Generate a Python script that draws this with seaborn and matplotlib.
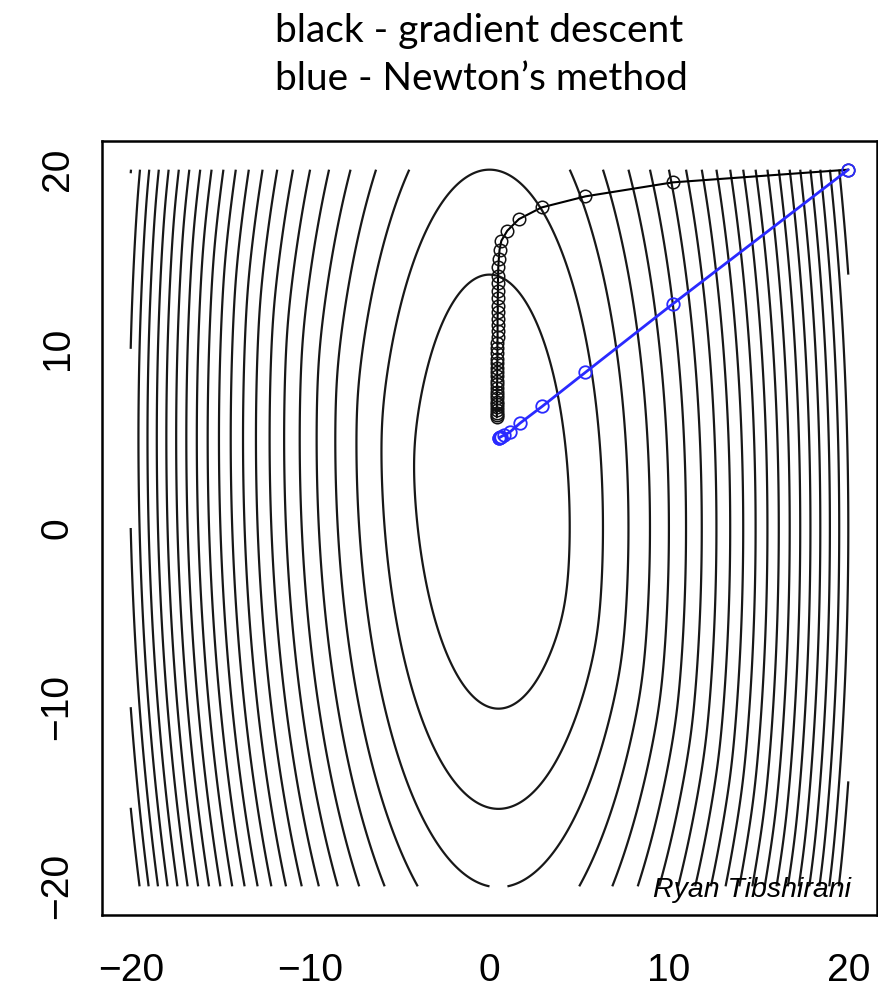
import numpy as np
import pandas as pd
import matplotlib
matplotlib.use("Agg")
import matplotlib.pyplot as plt
import seaborn as sns

# Objective: f(x, y) = (10 x^2 + y^2) / 2 + 5 log(1 + exp(-x - y))
grid_lo, grid_hi = -20.0, 20.0
contour_levels = list(range(100, 2500, 100))

# Gradient descent iterates (black)
gd_x = [20.0, 10.21, 5.35, 2.90, 1.64, 0.99, 0.66, 0.56, 0.52, 0.49, 0.48, 0.47,
        0.47, 0.46, 0.46, 0.46, 0.45, 0.45, 0.45, 0.45, 0.44, 0.44, 0.44, 0.44,
        0.43, 0.43, 0.43, 0.43, 0.43, 0.42, 0.42, 0.42, 0.42, 0.42, 0.42, 0.41,
        0.41, 0.41, 0.41, 0.41, 0.41]
gd_y = [20.0, 19.29, 18.51, 17.89, 17.24, 16.59, 16.03, 15.52, 15.03, 14.55,
        14.09, 13.65, 13.22, 12.81, 12.41, 12.03, 11.66, 11.31, 10.97, 10.64,
        10.33, 10.03, 9.74, 9.46, 9.19, 8.94, 8.69, 8.46, 8.23, 8.02, 7.81,
        7.61, 7.42, 7.24, 7.06, 6.90, 6.74, 6.59, 6.44, 6.30, 6.17]

# Newton's method iterates (blue)
nt_x = [20.0, 10.21, 5.35, 2.94, 1.70, 1.12, 0.80, 0.65, 0.58, 0.55, 0.53]
nt_y = [20.0, 12.50, 8.69, 6.79, 5.85, 5.34, 5.18, 5.10, 5.06, 5.04, 5.03]

tick_values = [-20, -10, 0, 10, 20]
title_lines = ["black - gradient descent", "blue - Newton\u2019s method"]
credit = "Ryan Tibshirani"

sns.set_theme(style="white")
plt.rcParams["font.family"] = ["Liberation Sans", "DejaVu Sans"]

W, H = 879, 996
fig = plt.figure(figsize=(W / 100, H / 100), dpi=100)
ax = fig.add_axes([102 / W, (H - 915) / H, (877 - 102) / W, (915 - 141) / H])

# contour lines of the objective
gx = np.linspace(grid_lo, grid_hi, 601)
gy = np.linspace(grid_lo, grid_hi, 601)
X, Y = np.meshgrid(gx, gy)
Z = 5 * X ** 2 + 0.5 * Y ** 2 + 5 * np.logaddexp(0, -X - Y)
ax.contour(X, Y, Z, levels=contour_levels, colors="#181818", linewidths=1.6)

gd = pd.DataFrame({"x": gd_x, "y": gd_y})
nt = pd.DataFrame({"x": nt_x, "y": nt_y})

sns.lineplot(data=gd, x="x", y="y", sort=False, estimator=None, ax=ax,
             color="black", linewidth=1.5, marker="o", markersize=9,
             markerfacecolor="none", markeredgecolor="#111111", markeredgewidth=1.1)
sns.lineplot(data=nt, x="x", y="y", sort=False, estimator=None, ax=ax,
             color="#2a2aff", linewidth=2.0, marker="o", markersize=9,
             markerfacecolor="none", markeredgecolor="#2a2aff", markeredgewidth=1.3)

ax.set_xlim(-21.6, 21.6)
ax.set_ylim(-21.6, 21.6)
ax.set_xlabel("")
ax.set_ylabel("")
ax.set_xticks(tick_values)
ax.set_yticks(tick_values)
ax.set_xticklabels([f"{v}".replace("-", "\u2212") for v in tick_values])
ax.set_yticklabels([f"{v}".replace("-", "\u2212") for v in tick_values],
                   rotation=90, va="center")
ax.tick_params(axis="both", which="major", direction="out", length=16,
               width=1.4, color="black", labelsize=28, labelcolor="black")
ax.tick_params(axis="x", pad=11)
ax.tick_params(axis="y", pad=3)
for side in ax.spines.values():
    side.set_visible(True)
    side.set_color("black")
    side.set_linewidth(1.8)

ax.text(0.967, (915 - 897) / 774, credit, transform=ax.transAxes, ha="right",
        va="baseline", fontsize=20.5, style="italic", color="black")

fig.text(275 / W, 1 - 42 / H, title_lines[0], ha="left", va="baseline",
         fontsize=28, family=["Lato", "DejaVu Sans"], color="black")
fig.text(275 / W, 1 - 90 / H, title_lines[1], ha="left", va="baseline",
         fontsize=28, family=["Lato", "DejaVu Sans"], color="black")

fig.savefig("out.png", dpi=100, facecolor="white")
